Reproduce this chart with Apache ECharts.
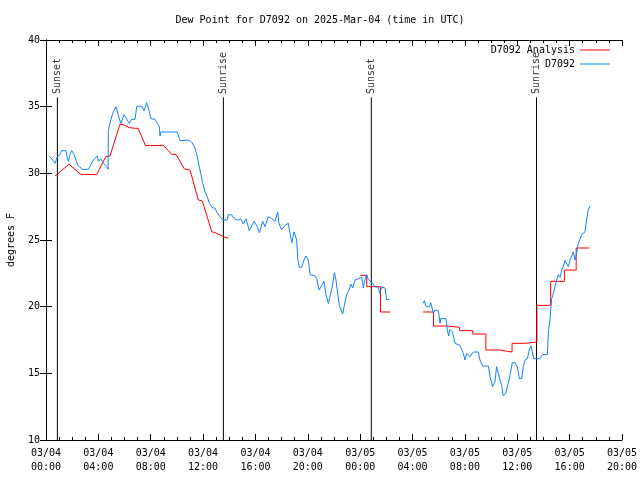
<!DOCTYPE html>
<html>
<head>
<meta charset="utf-8">
<script src="https://cdn.jsdelivr.net/npm/echarts@6/dist/echarts.min.js"></script>
<style>html,body{margin:0;padding:0;background:#fff}#c{width:640px;height:480px}</style>
</head>
<body>
<div id="c"></div>
<script>
// Hours since 03/04 00:00 UTC, values in degrees F
const xTickLabels = ['03/04\n00:00','03/04\n04:00','03/04\n08:00','03/04\n12:00','03/04\n16:00','03/04\n20:00','03/05\n00:00','03/05\n04:00','03/05\n08:00','03/05\n12:00','03/05\n16:00','03/05\n20:00'];
const yTicks = [10,15,20,25,30,35,40];

const sunEventHours = [0.87, 13.55, 24.85, 37.47];
const sunEventLabels = ['Sunset','Sunrise','Sunset','Sunrise'];

const obsPart1 = [
[0.25,31.3],[0.5,31.0],[0.69,30.75],[0.82,30.75],[0.87,31.25],[1.07,31.4],[1.2,31.7],[1.53,31.7],[1.63,31.1],[1.71,30.9],
[1.83,31.4],[1.96,31.7],[2.14,31.4],[2.32,30.9],[2.44,30.6],[2.78,30.3],[3.23,30.3],[3.41,30.6],[3.61,31.0],[3.92,31.3],
[4.0,30.9],[4.18,31.1],[4.38,30.75],[4.63,30.5],[4.74,30.3],[4.76,33.2],[4.89,33.75],[5.09,34.5],[5.35,35.0],[5.6,34.1],
[5.73,33.75],[5.96,34.4],[6.21,34.0],[6.36,33.75],[6.54,34.05],[6.8,34.05],[6.93,35.0],[7.31,35.05],[7.49,34.7],[7.69,35.3],
[7.82,34.9],[8.02,34.1],[8.33,34.05],[8.5,33.75],[8.66,33.5],[8.71,32.8],[8.76,33.1],[10.03,33.1],[10.24,32.45],[10.87,32.5],
[11.13,32.35],[11.38,31.9],[11.56,31.25],[11.71,30.5],[11.84,29.9],[11.97,29.25],[12.15,28.6],[12.32,28.25],[12.48,27.75],[12.6,27.7],
[12.73,27.4],[12.91,27.4],[13.04,27.1],[13.29,26.75],[13.5,26.5],[13.85,26.5],[13.93,26.9],[14.18,26.88],[14.44,26.55],[14.69,26.5],
[14.87,26.6],[15.07,26.2],[15.28,26.6],[15.53,25.7],[15.89,26.4],[16.14,26.0],[16.3,25.55],[16.55,26.4],[16.73,26.0],[16.98,26.75],
[17.24,26.6],[17.49,26.4],[17.7,27.1],[17.8,26.25],[18.0,25.75],[18.26,26.1],[18.51,26.25],[18.64,25.5],[18.77,24.8],[18.95,25.6],
[19.15,25.0],[19.23,23.6],[19.35,22.95],[19.53,22.95],[19.71,23.5],[19.86,23.8],[20.04,23.5],[20.17,22.4],[20.55,22.3],[20.68,22.1],
[20.86,21.25],[21.06,21.6],[21.24,21.9],[21.39,20.9],[21.57,20.25],[21.7,20.1],[21.87,21.5],[22.03,22.55],[22.15,22.0],[22.28,21.0],
[22.41,20.1],[22.54,19.75],[22.66,19.45],[22.79,20.1],[22.97,20.9],[23.15,21.25],[23.3,21.7],[23.43,21.4],[23.6,22.0],[23.86,22.1],
[24.11,22.2],[24.24,21.4],[24.37,22.05],[24.5,22.4],[24.62,22.05],[24.75,22.0],[24.95,21.75],[25.13,21.5],[25.38,21.45],[25.5,21.0],
[25.64,21.45],[25.9,21.4],[26.02,20.5],[26.22,20.55]
];
const obsPart2 = [
[28.82,20.25],[28.9,20.45],[29.03,20.0],[29.28,20.0],[29.39,20.3],[29.51,20.3],[29.59,19.5],[29.71,19.75],[29.97,19.7],[30.1,18.75],
[30.15,19.1],[30.56,19.1],[30.66,18.25],[30.76,17.8],[30.86,18.3],[31.06,18.1],[31.24,17.25],[31.63,17.1],[31.76,16.75],[31.88,16.5],
[32.0,16.0],[32.14,16.5],[32.39,16.25],[32.64,16.6],[33.02,16.6],[33.15,16.0],[33.36,15.55],[33.79,15.55],[33.92,14.75],[34.05,14.9],
[34.12,14.0],[34.3,14.4],[34.42,15.5],[34.55,15.0],[34.68,14.5],[34.81,14.1],[34.93,13.3],[35.11,13.5],[35.31,14.25],[35.45,14.9],
[35.62,15.8],[35.83,15.8],[36.0,15.5],[36.16,14.6],[36.34,14.6],[36.46,15.5],[36.6,16.0],[36.77,16.1],[36.92,16.75],[37.05,17.05],
[37.18,16.95],[37.26,16.1],[37.74,16.1],[37.94,16.4],[38.3,16.4],[38.37,18.0],[38.5,19.1],[38.63,20.6],[38.76,21.0],[38.88,21.5],
[39.01,22.0],[39.14,22.4],[39.27,22.2],[39.4,22.75],[39.52,23.05],[39.65,23.45],[39.78,23.6],[39.9,23.0],[40.03,23.5],[40.16,23.4],
[40.28,24.1],[40.41,23.5],[40.53,24.0],[40.66,24.75],[40.79,25.05],[40.91,25.4],[41.04,25.55],[41.17,25.6],[41.3,26.5],[41.42,27.25],
[41.56,27.55]
];
const analysisPart1 = [
[0.69,29.8],[1.76,30.68],[1.88,30.68],[2.65,29.93],[3.87,29.9],[4.56,31.25],[4.89,31.3],[5.65,33.68],[5.96,33.63],[6.34,33.43],
[6.77,33.38],[7.03,33.38],[7.61,32.08],[8.25,32.08],[8.96,32.1],[9.6,31.43],[9.93,31.43],[10.57,30.33],[11.0,30.25],[11.64,28.0],
[11.94,27.93],[12.66,25.63],[13.04,25.5],[13.55,25.25],[13.93,25.13]
];
const analysisPart2 = [[24.0,22.35],[24.5,21.5],[25.55,19.6],[26.3,19.6]];
const analysisPart3 = [
[28.8,19.6],[29.6,18.55],[30.65,18.45],[31.6,18.2],[32.6,17.95],[33.6,16.75],[34.6,16.6],[35.6,17.25],[36.6,17.35],[37.5,20.1],
[38.55,21.9],[39.6,22.75],[40.5,24.4],[41.5,24.4]
];

const FONT = 'DejaVu Sans Mono';
const RED = '#ff0000';
const BLUE = '#1084ff';
const txt = {fontFamily: FONT, fontSize: 10, color: '#000'};

const series = [];
function lineS(name, data, color, step) {
  return {name, type:'line', data, symbol:'none', step: step || false,
    lineStyle:{color, width:1}, itemStyle:{color}, animation:false, silent:true, z:3};
}
series.push(lineS('D7092 Analysis', analysisPart1, RED));
series.push(lineS('D7092 Analysis', analysisPart2, RED, 'end'));
series.push(lineS('D7092 Analysis', analysisPart3, RED, 'end'));
series.push(lineS('D7092', obsPart1, BLUE));
series.push(lineS('D7092', obsPart2, BLUE));

sunEventHours.forEach((h, i) => {
  series.push({type:'line', data:[[h,10],[h,35.7]], symbol:'none', lineStyle:{color:'#000', width:1}, animation:false, silent:true, z:2});
  series.push({type:'scatter', data:[[h,35.95]], symbolSize:1, itemStyle:{color:'rgba(0,0,0,0)'}, animation:false, silent:true,
    label:{show:true, formatter: sunEventLabels[i], rotate:90, position:'inside', align:'left', verticalAlign:'middle',
      fontFamily:FONT, fontSize:10, color:'#000'}});
});

const axisBase = {
  type:'value', min:0, max:44, interval:4,
  axisLine:{show:true, lineStyle:{color:'#000', width:1}},
  axisTick:{show:true, inside:true, length:6, lineStyle:{color:'#000'}},
  minorTick:{show:true, splitNumber:4, length:3, lineStyle:{color:'#000'}},
  splitLine:{show:false}, minorSplitLine:{show:false}
};

const legendBase = {orient:'vertical', align:'right', icon:'rect', itemWidth:30, itemHeight:1, itemGap:0,
  padding:0, selectedMode:false, textStyle:txt};

const option = {
  animation:false,
  backgroundColor:'#fff',
  title:{text:'Dew Point for D7092 on 2025-Mar-04 (time in UTC)', left:'center', top:15, padding:0,
    textStyle:{fontFamily:FONT, fontSize:10, fontWeight:'normal', color:'#000'}},
  legend:[
    Object.assign({data:['D7092 Analysis'], right:30, top:45}, legendBase),
    Object.assign({data:['D7092'], right:30, top:59}, legendBase)
  ],
  grid:{left:46, right:18, top:40, bottom:40, show:false, containLabel:false, outerBoundsMode:'none'},
  xAxis:[
    Object.assign({}, axisBase, {position:'bottom',
      axisLabel:{show:true, margin:6, lineHeight:14, fontFamily:FONT, fontSize:10, color:'#000',
        formatter:(v)=> xTickLabels[Math.round(v/4)] || ''}}),
    Object.assign({}, axisBase, {position:'top', axisLabel:{show:false}})
  ],
  yAxis:[
    {type:'value', min:yTicks[0], max:yTicks[yTicks.length-1], interval:5, position:'left',
      name:'degrees F', nameLocation:'middle', nameGap:30, nameRotate:90,
      nameTextStyle:{fontFamily:FONT, fontSize:10, color:'#000'},
      axisLine:{show:true, lineStyle:{color:'#000'}},
      axisTick:{show:true, inside:true, length:6, lineStyle:{color:'#000'}},
      axisLabel:{margin:6, fontFamily:FONT, fontSize:10, color:'#000'},
      splitLine:{show:false}},
    {type:'value', min:10, max:40, interval:5, position:'right',
      axisLine:{show:true, lineStyle:{color:'#000'}},
      axisTick:{show:true, inside:true, length:6, lineStyle:{color:'#000'}},
      axisLabel:{show:false}, splitLine:{show:false}}
  ],
  series
};

const chart = echarts.init(document.getElementById('c'), null, {renderer:'canvas'});
chart.setOption(option);
</script>
</body>
</html>
